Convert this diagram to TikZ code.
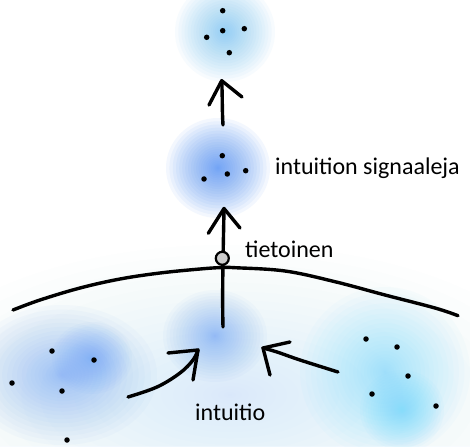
\documentclass[tikz,border=0pt]{standalone}
\usepackage{fontspec}
\setmainfont{Carlito}
\definecolor{glowtop}{RGB}{115,195,245}
\definecolor{glowmid}{RGB}{90,150,245}
\definecolor{glowlow}{RGB}{110,165,245}
\definecolor{glowcyan}{RGB}{120,220,250}
\definecolor{washblue}{RGB}{200,228,250}
\definecolor{knotgray}{RGB}{205,205,205}
\newcommand\glowat[6]{%
  \foreach \k in {1,...,24}{%
    \fill[#5, fill opacity=#6] (#1,#2) ellipse ({#3*(\k/24)^1.6} and {#4*(\k/24)^1.6});}}
\tikzset{
  pen/.style={line width=3.4pt, line cap=round, line join=round, black},
  dot/.style={circle, fill=black, inner sep=0pt, minimum size=5.5pt},
  lbl/.style={font=\fontsize{24}{28}\selectfont, anchor=base west, inner sep=0pt}
}
\begin{document}
\begin{tikzpicture}[x=1pt,y=-1pt]
\useasboundingbox (0,0) rectangle (470,446);
\fill[white] (0,0) rectangle (470,446);
% background wash
\glowat{230}{395}{330}{150}{washblue}{0.035}
% glows
\glowat{225}{32}{50}{50}{glowtop}{0.055}
\glowat{218}{168}{52}{50}{glowmid}{0.07}
\glowat{215}{336}{52}{46}{glowlow}{0.045}
\glowat{62}{375}{95}{70}{glowlow}{0.04}
\glowat{92}{358}{40}{36}{glowlow}{0.045}
\glowat{385}{372}{85}{85}{glowcyan}{0.04}
\glowat{402}{410}{42}{40}{glowcyan}{0.055}

% dots top cluster
\node[dot] (t1) at (222.7,10.7) {};
\node[dot] (t2) at (222.7,30.7) {};
\node[dot] (t3) at (244.3,28.7) {};
\node[dot] (t4) at (206.7,37.3) {};
\node[dot] (t5) at (229.3,52.7) {};
% middle cluster
\node[dot] (m1) at (222.3,155.7) {};
\node[dot] (m2) at (245.7,170.7) {};
\node[dot] (m3) at (227.3,174) {};
\node[dot] (m4) at (204,179) {};
% left cluster
\node[dot] (l1) at (52,351) {};
\node[dot] (l2) at (94,360) {};
\node[dot] (l3) at (12,383) {};
\node[dot] (l4) at (62,391) {};
\node[dot] (l5) at (67,440) {};
% right cluster
\node[dot] (r1) at (366,339) {};
\node[dot] (r2) at (397,347) {};
\node[dot] (r3) at (408,376) {};
\node[dot] (r4) at (372,394) {};
\node[dot] (r5) at (436,406) {};

% horizon curve
\draw[pen] plot[smooth, tension=0.6] coordinates {(13,310) (40,300) (80,288) (120,279) (160,273) (200,269) (222,267.5) (235,267.7) (285,271) (335,281.7) (385,295) (435,308) (458,315.7)};

% upper arrow
\coordinate (ua0) at (223,125);
\coordinate (ua1) at (221.7,80.7);
\coordinate (uaL) at (209,105);
\coordinate (uaR) at (242,97);
\draw[pen] (ua0) .. controls (222,110) and (222.5,95) .. (ua1);
\draw[pen] (uaL) -- (ua1) -- (uaR);

% lower vertical arrow
\coordinate (la0) at (223,327);
\coordinate (la1) at (224,208.5);
\coordinate (laL) at (208.3,233.3);
\coordinate (laR) at (240,228);
\draw[pen] (la0) .. controls (222,290) and (223.5,240) .. (la1);
\draw[pen] (laL) -- (la1) -- (laR);
\node[circle, draw=black, line width=2.2pt, fill=knotgray, minimum size=13pt, inner sep=0pt] (knot) at (222.3,258.3) {};

% lower left arrow
\coordinate (bl0) at (128,397);
\coordinate (bl1) at (198,350);
\coordinate (blL) at (168,353);
\coordinate (blR) at (193,380);
\draw[pen] plot[smooth, tension=0.6] coordinates {(128,397) (157,387) (180,373) (193,360) (198,350)};
\draw[pen] (blL) -- (bl1) -- (blR);

% lower right arrow
\coordinate (br0) at (338,372);
\coordinate (br1) at (263,348);
\coordinate (brL) at (290,342);
\coordinate (brR) at (270,375);
\draw[pen] plot[smooth, tension=0.6] coordinates {(338,372) (300,360) (277,352) (263,348)};
\draw[pen] (brL) -- (br1) -- (brR);

% labels
\node[lbl] (sig) at (275,175) {intuition signaaleja};
\node[lbl] (tiet) at (245,257) {tietoinen};
\node[lbl] (intu) at (195,420) {intuitio};
\end{tikzpicture}
\end{document}
